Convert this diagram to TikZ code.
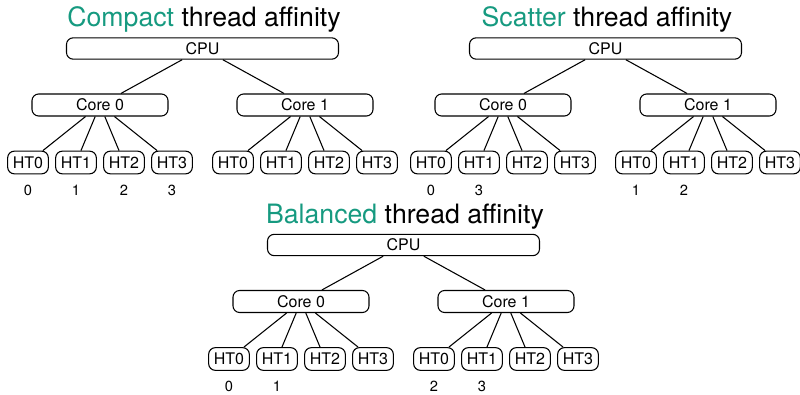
\documentclass[tikz,border=0pt]{standalone}
\usepackage{fontspec}
\setmainfont{TeX Gyre Heros}
\usetikzlibrary{positioning}
\definecolor{affgreen}{RGB}{22,154,128}
\tikzset{
  boxbase/.style={draw,rounded corners=5pt,inner sep=0pt,font=\fontsize{12}{14}\selectfont},
  cpubox/.style={boxbase,minimum width=204pt,minimum height=16pt},
  corebox/.style={boxbase,minimum width=102pt,minimum height=16.5pt},
  htbox/.style={boxbase,minimum width=30.5pt,minimum height=17pt},
  affinitytitle/.style={anchor=base,inner sep=0pt,font=\fontsize{20}{24}\selectfont},
  threadnum/.style={inner sep=0pt,font=\fontsize{11}{13}\selectfont}
}

% one CPU tree: x shift, y shift, name prefix, coloured word
\newcommand{\affinitytree}[4]{%
  \begin{scope}[shift={(#1,#2)}]
    \node[affinitytitle] (#3title) at (204,27) {\textcolor{affgreen}{#4} thread affinity};
    \node[cpubox] (#3cpu) at (202.5,48.5) {CPU};
    \node[corebox] (#3core0) at (100,105) {Core 0};
    \node[corebox] (#3core1) at (305,105) {Core 1};
    \foreach \c/\cx in {0/100,1/305}{
      \draw (#3cpu) -- (#3core\c);
      \foreach \h in {0,...,3}{
        \node[htbox] (#3ht\c\h) at (\cx-72+48*\h,162.5) {HT\h};
        \draw (#3core\c) -- (#3ht\c\h);
      }
    }
  \end{scope}}

\begin{document}
\begin{tikzpicture}[x=0.75pt,y=-0.75pt,line width=0.8pt]
  \useasboundingbox (0,0) rectangle (800,395);

  \affinitytree{0}{0}{compact}{Compact}
  \affinitytree{403}{0}{scatter}{Scatter}
  \affinitytree{201}{196.5}{balanced}{Balanced}

  % thread numbers under the hyperthreads
  \foreach \t/\n in {compactht00/0,compactht01/1,compactht02/2,compactht03/3,
                     scatterht00/0,scatterht01/3,scatterht10/1,scatterht11/2,
                     balancedht00/0,balancedht01/1,balancedht10/2,balancedht11/3}
    \node[threadnum,below=7.5pt of \t] (\t num) {\n};
\end{tikzpicture}
\end{document}
